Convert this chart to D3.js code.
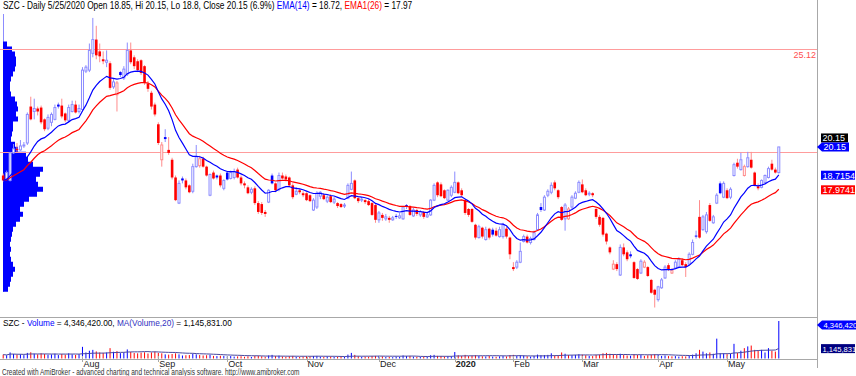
<!DOCTYPE html>
<html>
<head>
<meta charset="utf-8">
<title>SZC daily</title>
<style>
  body { margin: 0; background: #fff; }
  svg { display: block; font-family: "Liberation Sans", Arial, sans-serif; }
  line.border { stroke: #a8a8a8; stroke-width: 1; }
  line.level { stroke: #ff9c9c; stroke-width: 1; }
  text.month { font-size: 9px; fill: #222; }
</style>
</head>
<body>
<svg id="chart" width="856" height="376"></svg>

<script src="https://cdn.jsdelivr.net/npm/d3@7/dist/d3.min.js"></script>
<script>
// daily bars from 1 Jul 2019 to 25 May 2020, [open, high, low, close]
var bars = [
  // Jul
  [18.70, 18.80, 18.40, 18.45], [18.55, 18.95, 18.50, 18.85], [18.45, 19.90, 18.40, 19.85], [19.85, 20.30, 19.80, 20.05],
  [20.05, 20.35, 19.90, 20.00], [20.00, 20.50, 19.95, 20.20], [20.20, 20.40, 20.10, 20.25], [20.35, 21.90, 20.25, 21.80],
  [22.20, 22.70, 21.50, 21.55], [21.95, 22.60, 21.55, 22.10], [22.10, 22.20, 21.75, 21.95], [22.15, 22.25, 21.30, 21.40],
  [21.55, 21.60, 20.95, 21.05], [21.10, 21.80, 21.00, 21.65], [21.40, 21.90, 21.20, 21.80], [21.55, 22.30, 21.50, 22.15],
  [22.30, 22.40, 22.10, 22.20], [22.25, 22.60, 21.60, 21.70], [21.85, 21.90, 21.40, 21.50], [21.50, 22.30, 21.40, 22.15],
  [21.95, 22.50, 21.90, 22.30], [22.30, 22.50, 21.85, 21.90], [21.95, 22.30, 21.85, 22.10],
  // Aug
  [22.05, 24.20, 21.95, 24.05], [24.00, 24.30, 23.90, 24.20], [24.05, 25.40, 23.95, 25.05], [24.90, 26.70, 24.70, 25.60],
  [25.60, 26.30, 24.60, 24.80], [25.00, 25.40, 24.45, 24.75], [24.60, 25.00, 24.35, 24.50], [24.45, 25.05, 24.20, 24.55],
  [24.40, 24.50, 23.05, 23.15], [23.20, 23.60, 23.10, 23.45], [22.80, 23.50, 21.95, 23.40], [23.95, 24.00, 23.70, 23.80],
  [23.65, 24.25, 23.55, 24.10], [23.85, 25.45, 23.75, 25.05], [25.05, 25.45, 24.35, 24.45], [24.70, 24.80, 24.10, 24.25],
  [24.50, 24.60, 23.95, 24.05], [24.55, 24.60, 23.80, 23.90], [24.25, 24.30, 23.30, 23.40], [23.35, 23.50, 22.95, 23.10],
  [22.90, 23.00, 22.05, 22.20], [22.30, 22.40, 21.70, 21.80],
  // Sep
  [21.30, 21.40, 20.25, 20.35], [19.50, 20.40, 19.15, 20.25], [20.65, 21.05, 20.40, 20.55], [20.00, 20.65, 19.75, 19.85],
  [19.50, 19.60, 18.50, 18.60], [18.60, 18.70, 17.40, 17.45], [17.30, 18.45, 17.25, 18.30], [18.55, 18.65, 18.30, 18.45],
  [18.45, 18.55, 18.00, 18.10], [18.20, 18.25, 17.80, 17.85], [17.90, 19.30, 17.80, 19.15], [19.15, 20.25, 19.10, 19.65],
  [19.20, 19.70, 19.10, 19.55], [19.55, 19.65, 19.10, 19.15], [19.15, 19.20, 18.65, 18.70], [17.70, 18.80, 17.65, 18.75],
  [18.85, 18.95, 18.50, 18.55], [18.70, 18.75, 18.50, 18.60], [18.70, 18.80, 18.10, 18.20], [18.05, 18.50, 17.95, 18.45],
  // Oct
  [18.85, 18.90, 18.45, 18.50], [18.55, 18.95, 18.50, 18.85], [18.60, 19.05, 18.50, 18.90], [19.00, 19.10, 18.55, 18.60],
  [18.60, 18.70, 18.20, 18.30], [18.30, 18.40, 18.05, 18.20], [18.10, 18.20, 17.75, 17.80], [17.85, 18.10, 17.75, 18.00],
  [18.05, 18.15, 17.20, 17.30], [17.30, 17.40, 16.75, 16.85], [17.25, 17.35, 16.70, 16.80], [16.85, 16.95, 16.60, 16.75],
  [17.35, 18.00, 17.30, 17.95], [18.70, 18.80, 18.25, 18.30], [18.30, 18.35, 17.85, 17.95], [18.00, 18.85, 17.90, 18.70],
  [18.70, 18.85, 18.50, 18.55], [18.65, 18.75, 18.40, 18.50], [18.60, 18.65, 18.10, 18.20], [18.20, 18.30, 17.50, 17.60],
  [17.75, 18.10, 17.70, 17.90], [17.95, 18.05, 17.75, 17.85], [17.80, 17.90, 17.60, 17.70],
  // Nov
  [17.80, 17.85, 17.40, 17.45], [17.70, 17.75, 17.35, 17.40], [16.95, 17.55, 16.90, 17.45], [17.10, 17.90, 17.00, 17.80],
  [17.65, 17.90, 17.50, 17.85], [17.70, 17.80, 17.45, 17.50], [17.40, 17.70, 17.30, 17.60], [17.65, 17.75, 17.30, 17.35],
  [17.35, 17.60, 17.25, 17.50], [17.30, 17.35, 17.05, 17.15], [17.25, 17.30, 17.05, 17.10], [17.15, 17.30, 17.05, 17.20],
  [17.55, 18.30, 17.50, 18.20], [18.00, 18.90, 17.95, 18.30], [18.45, 18.50, 17.50, 17.55], [17.55, 17.60, 17.30, 17.40],
  [17.45, 17.60, 17.35, 17.50], [17.45, 17.50, 17.25, 17.35], [17.40, 17.50, 17.15, 17.20], [17.30, 17.35, 16.65, 16.70],
  [17.20, 17.25, 16.30, 16.45],
  // Dec
  [16.45, 16.90, 16.30, 16.80], [16.70, 16.80, 16.40, 16.55], [16.50, 16.75, 16.40, 16.60], [16.55, 16.65, 16.30, 16.45],
  [16.45, 16.65, 16.40, 16.55], [16.65, 16.75, 16.50, 16.60], [16.55, 16.80, 16.50, 16.65], [16.50, 17.15, 16.45, 17.10],
  [17.20, 17.25, 17.00, 17.15], [17.15, 17.20, 16.65, 16.70], [16.65, 17.05, 16.60, 16.95], [16.95, 17.00, 16.65, 16.75],
  [16.70, 16.95, 16.60, 16.85], [16.85, 16.90, 16.50, 16.60], [16.60, 16.85, 16.55, 16.70], [16.70, 17.50, 16.65, 17.45],
  [17.45, 18.30, 17.40, 18.20], [18.35, 18.40, 17.60, 17.70], [18.25, 18.35, 17.60, 17.65], [17.95, 18.00, 17.50, 17.55],
  [17.45, 18.00, 17.40, 17.95], [17.70, 18.20, 17.60, 18.10],
  // Jan
  [17.85, 18.90, 17.80, 18.35], [18.35, 18.40, 17.75, 17.80], [17.95, 18.05, 17.60, 17.70], [17.45, 17.50, 16.70, 16.80],
  [17.00, 17.05, 16.60, 16.70], [17.00, 17.05, 16.30, 16.35], [16.20, 16.25, 15.45, 15.55], [15.55, 16.20, 15.50, 16.10],
  [16.05, 16.10, 15.50, 15.60], [15.45, 16.10, 15.40, 15.95], [16.00, 16.05, 15.45, 15.55], [15.95, 16.05, 15.60, 15.70],
  [15.90, 16.05, 15.60, 15.65], [15.60, 16.10, 15.55, 15.95], [15.60, 16.30, 15.50, 16.20], [16.00, 16.10, 15.50, 15.60],
  [15.55, 15.60, 14.45, 14.70],
  // Feb
  [14.05, 14.30, 13.85, 13.95], [14.05, 14.40, 13.95, 14.30], [14.30, 15.30, 14.25, 14.85], [15.35, 15.70, 15.30, 15.60],
  [15.60, 15.70, 15.25, 15.30], [15.30, 15.60, 15.20, 15.50], [15.45, 15.90, 15.40, 15.80], [15.95, 16.80, 15.90, 16.70],
  [17.10, 17.30, 16.85, 16.95], [16.95, 17.70, 16.90, 17.60], [17.70, 18.00, 17.60, 17.90], [17.85, 18.35, 17.75, 18.20],
  [18.35, 18.45, 17.95, 18.05], [17.95, 18.00, 17.50, 17.60], [17.10, 17.15, 16.40, 16.45], [16.50, 17.30, 15.90, 17.20],
  [16.50, 17.10, 16.45, 17.00], [17.10, 17.70, 17.00, 17.60], [17.55, 17.90, 17.50, 17.80], [17.85, 18.45, 17.80, 18.35],
  // Mar
  [18.25, 18.50, 17.80, 17.85], [17.95, 18.05, 17.65, 17.70], [17.75, 17.90, 17.65, 17.80], [17.80, 17.85, 17.60, 17.70],
  [17.00, 17.05, 16.50, 16.60], [16.60, 16.70, 16.10, 16.20], [16.55, 16.60, 15.60, 15.70], [15.75, 15.80, 15.20, 15.35],
  [15.05, 15.10, 14.70, 14.80], [13.95, 14.40, 13.90, 14.20], [14.20, 14.30, 13.85, 13.95], [13.65, 15.20, 13.60, 15.05],
  [15.05, 15.25, 14.60, 14.70], [14.80, 14.90, 14.35, 14.45], [14.70, 14.85, 14.50, 14.60], [14.30, 14.35, 13.45, 13.50],
  [13.95, 14.00, 13.40, 13.45], [13.75, 14.45, 13.70, 14.35], [14.05, 14.40, 14.00, 14.30], [14.05, 14.10, 13.55, 13.60],
  [13.40, 13.45, 12.70, 12.75], [12.90, 12.95, 12.00, 12.65],
  // Apr
  [12.40, 13.10, 12.30, 13.05], [13.00, 13.50, 12.95, 13.40], [13.50, 14.15, 13.45, 14.05], [14.15, 14.25, 13.85, 13.95],
  [13.75, 14.00, 13.70, 13.90], [14.00, 14.40, 13.95, 14.30], [14.05, 14.55, 14.00, 14.45], [14.40, 14.50, 14.10, 14.15],
  [14.20, 14.30, 13.55, 14.05], [14.20, 14.80, 14.15, 14.70], [14.70, 15.45, 14.65, 15.30], [15.65, 15.90, 15.50, 15.60],
  [16.60, 17.45, 15.50, 15.55], [15.95, 16.70, 15.90, 16.60], [15.85, 16.85, 15.75, 16.70], [17.20, 17.30, 16.35, 16.40],
  [16.30, 16.70, 16.25, 16.60], [17.30, 17.80, 17.25, 17.70], [18.30, 18.40, 17.75, 17.80], [17.60, 18.40, 17.55, 18.30],
  // May
  [17.95, 18.05, 17.50, 17.55], [17.60, 18.10, 17.50, 18.00], [18.70, 19.35, 18.65, 19.25], [19.35, 19.55, 19.05, 19.15],
  [19.00, 19.85, 18.95, 19.50], [18.70, 19.25, 18.65, 19.15], [19.15, 19.90, 19.10, 19.60], [19.50, 19.90, 19.05, 19.10],
  [18.85, 18.90, 18.15, 18.20], [18.15, 18.30, 17.95, 18.05], [18.10, 18.50, 18.05, 18.45], [18.35, 18.75, 18.30, 18.70],
  [18.60, 19.15, 18.55, 19.05], [19.30, 19.50, 18.95, 19.00], [19.00, 19.10, 18.80, 18.85], [18.85, 20.15, 18.80, 20.15]
];

// daily volume, thousand shares
var volume = [
  450, 380, 700, 520, 430, 480, 390, 650, 720, 560, 480, 600, 520, 430, 470, 560, 400, 520, 450, 600, 480, 420, 500,
  1350, 700, 900, 1000, 820, 700, 650, 700, 1200, 780, 850, 620, 700, 1050, 760, 640, 600, 680, 720, 580, 700, 800,
  650, 600, 480, 450, 520, 600, 480, 350, 380, 400, 550, 480, 400, 350, 380, 420, 300, 280, 320, 300,
  250, 280, 220, 240, 260, 200, 250, 180, 300, 320, 260, 200, 350, 420, 280, 330, 240, 200, 260, 300, 200, 180, 220,
  260, 220, 280, 300, 220, 200, 240, 230, 180, 220, 200, 190, 450, 650, 420, 260, 200, 220, 210, 280, 300,
  300, 250, 180, 200, 160, 220, 200, 350, 280, 300, 220, 200, 180, 240, 200, 380, 420, 300, 280, 240, 260, 250,
  750, 380, 300, 420, 280, 320, 380, 300, 260, 240, 300, 220, 200, 250, 280, 240, 400,
  420, 300, 380, 350, 260, 220, 300, 450, 380, 400, 420, 600, 350, 380, 700, 550, 400, 380, 420, 500,
  450, 380, 300, 280, 420, 450, 600, 650, 550, 500, 420, 550, 400, 350, 320, 480, 420, 400, 300, 380, 450, 500,
  420, 300, 350, 280, 250, 280, 220, 260, 240, 300, 450, 600, 1000, 800, 600, 700, 550, 2300, 600, 600,
  500, 550, 1700, 650, 900, 1200, 1400, 1500, 1000, 900, 1000, 700, 1200, 900, 800, 4346
];

// first bar of each month on the time axis
var monthLabels = ['Aug', 'Sep', 'Oct', 'Nov', 'Dec', '2020', 'Feb', 'Mar', 'Apr', 'May'];
var monthBars = [23, 45, 65, 88, 109, 131, 148, 168, 190, 210];

// horizontal levels drawn on the price pane
var levels = [25.12, 19.9];

// volume at price, from the top level down, 100k shares per row
var vapTop = 25.5, vapStep = 0.254;
var vapVolume = [4, 9, 12, 13, 13, 12, 10, 8, 7, 7, 8, 12, 14, 15, 13, 15, 10, 10, 9, 8,
  12, 15, 23, 25, 30, 40, 37, 33, 35, 40, 34, 26, 21, 17, 20, 17, 13, 10, 9, 8,
  7, 8, 7, 8, 10, 12, 10, 8, 7, 5];

// last values as printed by the chart
var emaText = ['18.72', '17.97'];
var emaLast = [18.7154, 17.9741];
var volText = ['4,346,420.00', '1,145,831.00'];
var volAxisText = ['4,346,420', '1,145,831'];
var volMaLast = 1145.831;

var blue = '#0000ff', red = '#ff0000';
var lightBlue = '#8c8cff', lightRed = '#ff8c8c';

var svg = d3.select('#chart');

var x = d3.scaleLinear().domain([0, bars.length - 1]).range([3.2, 778.8]);
var y = d3.scaleLinear().domain([12, 27]).range([307.5, 12]);  //19.7 px per unit
var yv = d3.scaleLinear().domain([0, d3.max(volume)]).range([358.5, 321]);
var xv = d3.scaleLinear().domain([0, 40]).range([3, 43]);

function ema(vals, n) {
  var k = 2 / (n + 1), out = [vals[0]];
  for (var i = 1; i < vals.length; i++) out.push(vals[i] * k + out[i - 1] * (1 - k));
  return out;
}
var closes = bars.map(d => d[3]);
var ema14 = ema(closes, 14);
var ema26 = ema(closes, 26);
var volMa = volume.map((v, i) => d3.mean(volume.slice(Math.max(0, i - 19), i + 1)));

function upDay(i) {
  var prev = i > 0 ? bars[i - 1][3] : bars[i][0];
  return bars[i][3] >= prev;
}

// panel borders
svg.append('line').attr('class', 'border').attr('x1', 817.5).attr('x2', 817.5).attr('y1', 0).attr('y2', 368);
svg.append('line').attr('class', 'border').attr('x1', 0).attr('x2', 817.5).attr('y1', 317.5).attr('y2', 317.5);
svg.append('line').attr('class', 'border').attr('x1', 0).attr('x2', 817.5).attr('y1', 359.5).attr('y2', 359.5);

// volume at price, one stepped shape
var vp = d3.path();
vp.moveTo(xv(0), y(vapTop));
vapVolume.forEach(function (v, k) {
  vp.lineTo(xv(v), y(vapTop - k * vapStep));
  vp.lineTo(xv(v), y(vapTop - (k + 1) * vapStep));
});
vp.lineTo(xv(0), y(vapTop - vapVolume.length * vapStep));
vp.closePath();
svg.append('line')
  .attr('x1', 3.5).attr('x2', 3.5).attr('y1', 14).attr('y2', 292)
  .attr('stroke', lightBlue);
svg.append('path').attr('d', vp.toString()).attr('fill', blue);

// level lines
svg.selectAll('line.level')
  .data(levels)
  .enter()
  .append('line')
  .attr('class', 'level')
  .attr('x1', 0).attr('x2', 817)
  .attr('y1', d => Math.round(y(d)) + 0.5)
  .attr('y2', d => Math.round(y(d)) + 0.5);
svg.append('text')
  .attr('x', 816).attr('y', y(levels[0]) + 9)
  .attr('text-anchor', 'end')
  .attr('font-size', 9).attr('fill', '#ff5050')
  .text(levels[0].toFixed(2));

// candles
var candle = svg.append('g').selectAll('g')
  .data(bars)
  .enter()
  .append('g');

candle.append('line')
  .attr('x1', (d, i) => x(i)).attr('x2', (d, i) => x(i))
  .attr('y1', d => y(d[1])).attr('y2', d => y(d[2]))
  .attr('stroke', (d, i) => upDay(i) ? lightBlue : lightRed);

candle.append('rect')
  .attr('x', (d, i) => d[3] >= d[0] ? x(i) - 1 : x(i) - 1.3)
  .attr('y', d => y(Math.max(d[0], d[3])))
  .attr('width', d => d[3] >= d[0] ? 2 : 2.6)
  .attr('height', d => Math.max(1, y(Math.min(d[0], d[3])) - y(Math.max(d[0], d[3]))))
  .attr('fill', (d, i) => d[3] >= d[0] ? '#fff' : (upDay(i) ? blue : red))
  .attr('stroke', (d, i) => d[3] >= d[0] ? (upDay(i) ? lightBlue : lightRed) : 'none')
  .attr('stroke-width', 1);

// moving averages
var line = d3.line().x((d, i) => x(i)).y(d => y(d));
svg.append('path').attr('d', line(ema26)).attr('fill', 'none').attr('stroke', red).attr('stroke-width', 1.2);
svg.append('path').attr('d', line(ema14)).attr('fill', 'none').attr('stroke', blue).attr('stroke-width', 1.2);

// volume pane
svg.selectAll('line.vol')
  .data(volume)
  .enter()
  .append('line')
  .attr('class', 'vol')
  .attr('x1', (d, i) => x(i)).attr('x2', (d, i) => x(i))
  .attr('y1', yv(0)).attr('y2', d => yv(d))
  .attr('stroke', (d, i) => upDay(i) ? blue : red);
svg.append('path')
  .attr('d', d3.line().x((d, i) => x(i)).y(d => yv(d))(volMa))
  .attr('fill', 'none').attr('stroke', '#4a4aa0').attr('stroke-width', 1);

// time axis
svg.selectAll('line.tick')
  .data(monthBars)
  .enter()
  .append('line')
  .attr('class', 'border')
  .attr('x1', d => Math.round(x(d)) + 0.5).attr('x2', d => Math.round(x(d)) + 0.5)
  .attr('y1', 356).attr('y2', 362);
svg.selectAll('text.month')
  .data(monthLabels)
  .enter()
  .append('text')
  .attr('class', 'month')
  .attr('x', (d, i) => x(monthBars[i]) + 1)
  .attr('y', 366.5)
  .attr('font-weight', d => d == '2020' ? 'bold' : 'normal')
  .text(d => d);

// titles, squeezed horizontally to the width they take in the chart
function title(parts, tx, ty, width, size, fill) {
  var t = svg.append('text').attr('x', 0).attr('y', 0).attr('font-size', size).attr('fill', fill || '#000');
  parts.forEach(p => t.append('tspan').attr('fill', p[1]).text(p[0]));
  var k = width / t.node().getComputedTextLength();
  t.attr('transform', 'translate(' + tx + ',' + ty + ') scale(' + k + ',1)');
}
var last = bars[bars.length - 1], prevClose = bars[bars.length - 2][3];
var pct = ((last[3] / prevClose - 1) * 100).toFixed(1);
title([
  ['SZC - Daily 5/25/2020 Open ' + last[0] + ', Hi ' + last[1] + ', Lo ' + last[2] + ', Close ' + last[3].toFixed(2) + ' (' + pct + '%) ', '#000'],
  ['EMA(14)', blue], [' = ' + emaText[0] + ', ', '#000'], ['EMA1(26)', red], [' = ' + emaText[1], '#000']
], 3, 9, 410, 10);
title([
  ['SZC - ', '#000'], ['Volume', blue], [' = ' + volText[0] + ', ', '#000'],
  ['MA(Volume,20)', '#3030c0'], [' = ' + volText[1], '#000']
], 3, 326, 229, 9.5);
title([
  ['Created with AmiBroker - advanced charting and technical analysis software. http://www.amibroker.com', '#333']
], 2, 375, 298, 8.5);

// right hand value labels
function tag(text, cy, bg, arrow, w, size) {
  var x0 = arrow ? 822 : 821;
  var g = svg.append('g');
  if (arrow) {
    g.append('path')
      .attr('d', 'M817,' + cy + 'L' + x0 + ',' + (cy - 4.5) + 'L' + (x0 + w) + ',' + (cy - 4.5) +
        'L' + (x0 + w) + ',' + (cy + 4.5) + 'L' + x0 + ',' + (cy + 4.5) + 'Z')
      .attr('fill', bg);
  } else {
    g.append('rect').attr('x', x0).attr('y', cy - 4.5).attr('width', w).attr('height', 9).attr('fill', bg);
  }
  g.append('text')
    .attr('x', x0 + 1.5).attr('y', cy + 3.3)
    .attr('font-size', size || 9).attr('fill', '#fff')
    .text(text);
}
tag(last[3].toFixed(2), y(last[3]) - 9, '#000', false, 27);
tag(last[3].toFixed(2), y(last[3]), blue, true, 27);
tag(emaLast[0].toFixed(4), y(emaLast[0]), blue, false, 34);
tag(emaLast[1].toFixed(4), y(emaLast[1]), red, false, 34);
tag(volAxisText[0], yv(d3.max(volume)) + 4, blue, true, 34, 7.6);
tag(volAxisText[1], yv(volMaLast), '#000080', false, 34, 7.6);
</script>
</body>
</html>
